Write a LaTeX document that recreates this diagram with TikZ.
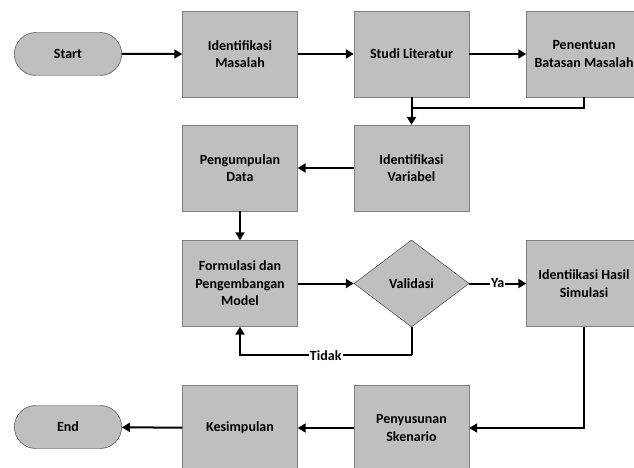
\documentclass[tikz,border=0pt]{standalone}
\usepackage{fontspec}
\setmainfont{Carlito}
\usetikzlibrary{arrows.meta,calc,shapes.geometric,shapes.misc}

\begin{document}
\begin{tikzpicture}[x=1pt,y=-1pt,>={Triangle[length=8pt,width=9pt]},
  font=\fontsize{14}{17.5}\selectfont\bfseries,
  box/.style={draw=black!50,fill=black!25,minimum width=115pt,minimum height=86pt,align=center,inner sep=2pt},
  term/.style={rounded rectangle,draw=black!80,fill=black!25,minimum width=114pt,minimum height=43pt},
  cond/.style={diamond,draw=black!80,fill=black!25,minimum width=115pt,minimum height=87pt,inner sep=0pt},
  flow/.style={line width=2pt},
  lbl/.style={fill=white,inner sep=1pt}]
  \clip (0,0) rectangle (634,468);
  \useasboundingbox (0,0) rectangle (634,468);

  \node[term] (start) at (68,54) {Start};
  \node[box] (masalah) at (240,54) {Identifikasi\\Masalah};
  \node[box] (studi) at (411.5,54) {Studi Literatur};
  \node[box] (batasan) at (584,54) {Penentuan\\Batasan Masalah};

  \node[box] (variabel) at (411.5,168) {Identifikasi\\Variabel};
  \node[box] (data) at (240,168) {Pengumpulan\\Data};

  \node[box] (model) at (240,283.5) {Formulasi dan\\Pengembangan\\Model};
  \node[cond] (valid) at (411.5,283.5) {Validasi};
  \node[box] (hasil) at (584,283.5) {Identiikasi Hasil\\Simulasi};

  \node[box] (skenario) at (411.5,428) {Penyusunan\\Skenario};
  \node[box] (simpul) at (240,428) {Kesimpulan};
  \node[term] (end) at (68,427) {End};

  \coordinate (join) at ($(studi.south)+(0,11)$);
  \coordinate (back) at ($(valid.south)+(0,28)$);

  \draw[flow,->] (start) -- (masalah);
  \draw[flow,->] (masalah) -- (studi);
  \draw[flow,->] (studi) -- (batasan);
  \draw[flow,->] (studi) -- (variabel);
  \draw[flow] (batasan.south) |- (join);
  \draw[flow,->] (variabel) -- (data);
  \draw[flow,->] (data) -- (model);
  \draw[flow,->] (model) -- (valid);
  \draw[flow,->] (valid) -- node[lbl] {Ya} (hasil);
  \draw[flow] (valid.south) -- (back);
  \draw[flow,->] (back) -- node[lbl] {Tidak} (back -| model.south) -- (model.south);
  \draw[flow,->] (hasil.south) |- (skenario.east);
  \draw[flow,->] (skenario) -- (simpul);
  \draw[flow,->] (simpul) -- (end);
\end{tikzpicture}
\end{document}
